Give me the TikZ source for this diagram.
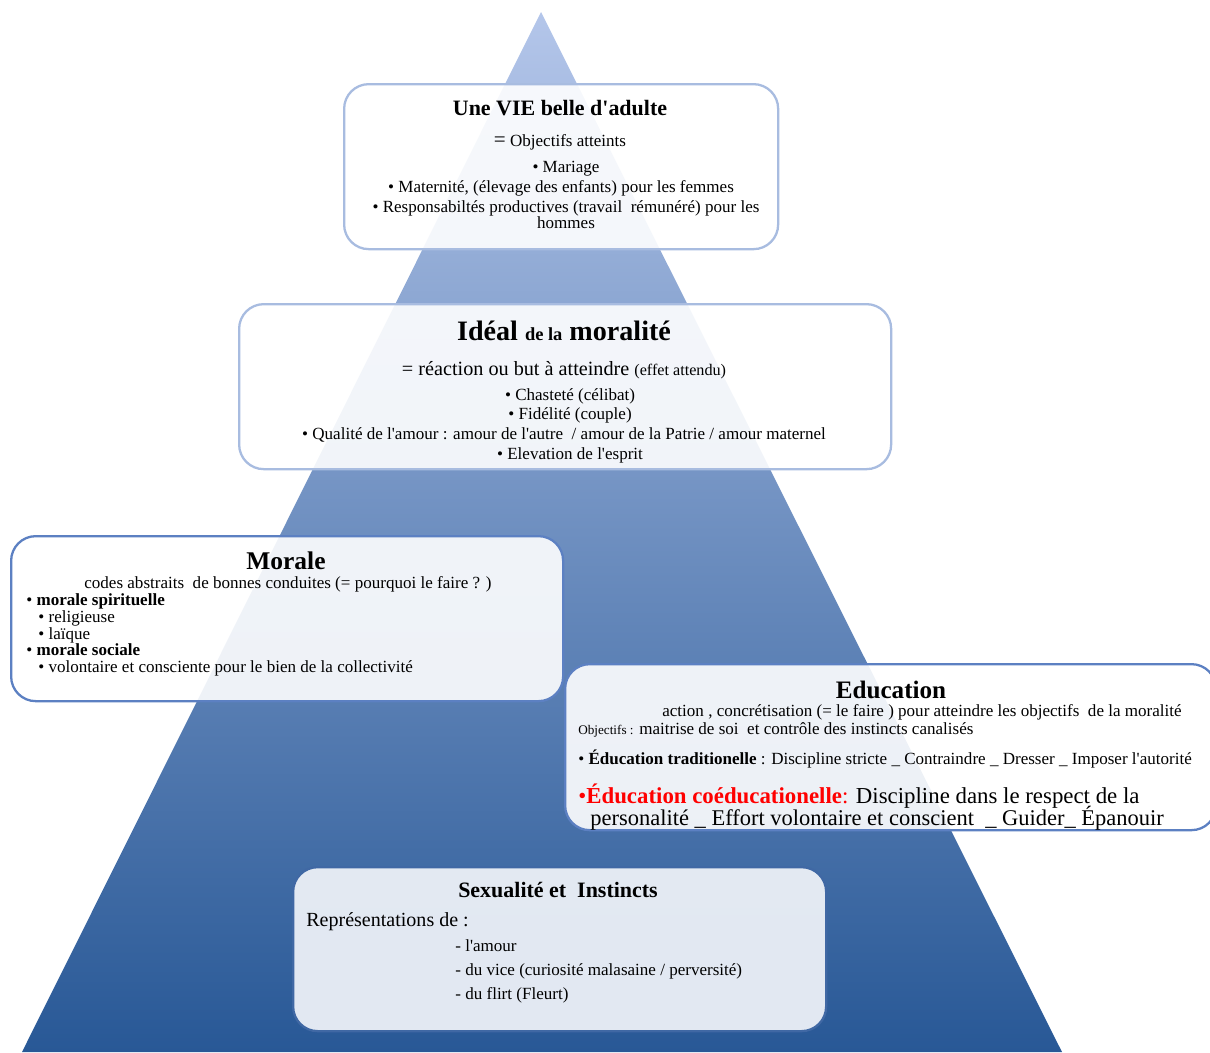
\documentclass[tikz,border=0pt]{standalone}
\usepackage{fontspec}
\setmainfont{Liberation Serif}
\usepackage{tikz}
\usetikzlibrary{positioning}
\definecolor{apexblue}{RGB}{180,198,234}
\definecolor{baseblue}{RGB}{40,88,150}
\definecolor{paleline}{RGB}{168,188,224}
\definecolor{midline}{RGB}{92,128,194}
\definecolor{darkline}{RGB}{64,104,164}
\definecolor{palefill}{RGB}{236,240,247}
\newcommand{\apos}{\textquotesingle}
\newcommand{\pyrbox}[6]{
  \node[box, draw=#6, minimum width=#4*0.02cm, minimum height=#5*0.02cm] (#1) at (#2,#3) {};
}
\tikzset{
  box/.style   = {rounded corners=14pt, line width=1.3pt, fill=white,
                  fill opacity=0.9, anchor=north west, inner sep=0pt},
  txt/.style   = {inner sep=0pt, anchor=base, font=\fontsize{9.7}{11}\selectfont},
  ltxt/.style  = {txt, anchor=base west},
  title/.style = {txt, font=\bfseries\fontsize{12.5}{14}\selectfont}
}

\begin{document}
\begin{tikzpicture}[x=0.02cm, y=-0.02cm]
	\useasboundingbox (0,0) rectangle (1210,1052);
	\shade[top color=apexblue, bottom color=baseblue] (541,12) -- (1062,1052) -- (22,1052) -- cycle;
	% top box
	\pyrbox{adult}{343}{83}{434}{165}{paleline}
	\node[title] (adultT) at (560,115) {Une VIE belle d\apos adulte};
	\node[txt] (adultA) at (560,146) {{\fontsize{12}{12}\selectfont =} Objectifs atteints};
	\node[txt] (adultB) at (566,172) {• Mariage};
	\node[txt] (adultC) at (561,192) {• Maternité, (élevage des enfants) pour les femmes};
	\node[txt] (adultD) at (566,212) {• Responsabiltés productives (travail\ \ rémunéré) pour les};
	\node[txt] (adultE) at (566,228) {hommes};
	% ideal
	\pyrbox{ideal}{238}{303}{652}{165}{paleline}
	\node[txt, font=\bfseries\fontsize{16}{18}\selectfont] (idealT) at (564,340)
		{Idéal {\fontsize{10.5}{10}\selectfont de la} moralité};
	\node[txt, font=\fontsize{11.5}{13}\selectfont] (idealA) at (564,375)
		{= réaction ou but à atteindre {\fontsize{9.2}{10}\selectfont(effet attendu)}};
	\node[txt] (idealB) at (570,400) {• Chasteté (célibat)};
	\node[txt] (idealC) at (570,419) {• Fidélité (couple)};
	\node[txt] (idealD) at (564,439) {• Qualité de l\apos amour : amour de l\apos autre\ \ / amour de la Patrie / amour maternel};
	\node[txt] (idealE) at (570,459) {• Elevation de l\apos esprit};
	% morale
	\pyrbox{morale}{10}{535}{552}{165}{midline}
	\node[txt, font=\bfseries\fontsize{14.5}{16}\selectfont] (moraleT) at (286,569) {Morale};
	\node[ltxt] (moraleA) at (84,588) {codes abstraits\ \ de bonnes conduites (= pourquoi le faire ? )};
	\node[ltxt] (moraleB) at (26,605) {• \textbf{morale spirituelle}};
	\node[ltxt] (moraleC) at (38,622) {• religieuse};
	\node[ltxt] (moraleD) at (38,639) {• laïque};
	\node[ltxt] (moraleE) at (26,655) {• \textbf{morale sociale}};
	\node[ltxt] (moraleF) at (38,672) {• volontaire et consciente pour le bien de la collectivité};
	% education
	\pyrbox{educ}{564}{663}{651}{166}{midline}
	\node[txt, font=\bfseries\fontsize{14.3}{16}\selectfont] (educT) at (891,698) {Education};
	\node[ltxt] (educA) at (662,716) {action , concrétisation (= le faire ) pour atteindre les objectifs\ \ de la moralité};
	\node[ltxt] (educB) at (578,734) {{\fontsize{7.5}{8}\selectfont Objectifs :} maitrise de soi\ \ et contrôle des instincts canalisés};
	\node[ltxt] (educC) at (578,764) {• \textbf{Éducation traditionelle} : Discipline stricte \_ Contraindre \_ Dresser \_ Imposer l\apos autorité};
	\node[ltxt, font=\fontsize{13}{15}\selectfont] (educD) at (578,803)
		{\textcolor{red}{•\textbf{Éducation coéducationelle}:} Discipline dans le respect de la};
	\node[ltxt, font=\fontsize{12.8}{15}\selectfont] (educE) at (590,825)
		{personalité \_ Effort volontaire et conscient\ \ \_ Guider\_ Épanouir};
	% sexualite
	\node[box, draw=darkline, fill=palefill, fill opacity=0.95, minimum width=533*0.02cm,
		minimum height=164*0.02cm] (sexu) at (292,866) {};
	\node[title] (sexuT) at (558,897) {Sexualité et\ \ Instincts};
	\node[ltxt, font=\fontsize{11.4}{13}\selectfont] (sexuA) at (306,926) {Représentations de :};
	\node[ltxt] (sexuB) at (455,951) {- l\apos amour};
	\node[ltxt] (sexuC) at (455,975) {- du vice (curiosité malasaine / perversité)};
	\node[ltxt] (sexuD) at (455,999) {- du flirt (Fleurt)};
\end{tikzpicture}
\end{document}
